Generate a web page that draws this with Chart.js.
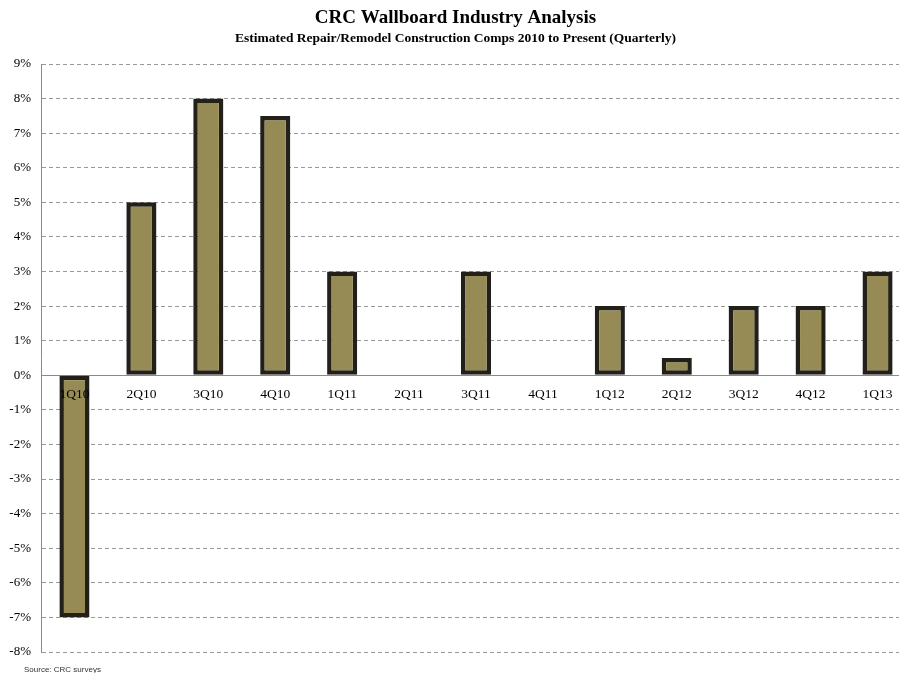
<!DOCTYPE html>
<html>
<head>
<meta charset="utf-8">
<script src="https://cdn.jsdelivr.net/npm/chart.js@4.4.1/dist/chart.umd.min.js"></script>
<style>
  html, body { margin: 0; padding: 0; background: #fff; overflow: hidden; }
  #marco { width: 899px; height: 673px; overflow: hidden; position: relative; }
</style>
</head>
<body>
<div id="marco">
  <canvas id="grafico" width="914" height="673"></canvas>
</div>
<script>
// Datos
const trimestres = ['1Q10', '2Q10', '3Q10', '4Q10', '1Q11', '2Q11', '3Q11', '4Q11', '1Q12', '2Q12', '3Q12', '4Q12', '1Q13'];
const comps = [-7, 5, 8, 7.5, 3, null, 3, null, 2, 0.5, 2, 2, 3];
const ejeMin = -8;
const ejeMax = 9;
const ejePaso = 1;
const titulo = 'CRC Wallboard Industry Analysis';
const subtitulo = 'Estimated Repair/Remodel Construction Comps 2010 to Present (Quarterly)';
const fuente = 'Source: CRC surveys';

const serif = "'Liberation Serif', 'Times New Roman', serif";

// Texto de la fuente abajo a la izquierda
const pluginFuente = {
    id: 'fuente',
    afterDraw(chart) {
        const ctx = chart.ctx;
        ctx.save();
        ctx.font = "8px 'Liberation Sans', Arial, sans-serif";
        ctx.fillStyle = '#333';
        ctx.textBaseline = 'middle';
        ctx.fillText(fuente, 24, 670);
        ctx.restore();
    }
};

new Chart(document.getElementById('grafico').getContext('2d'), {
    type: 'bar',
    data: {
        labels: trimestres,
        datasets: [{
            data: comps,
            backgroundColor: '#968b55',
            borderColor: '#23201a',
            borderWidth: 4.5,
            borderSkipped: false,
            categoryPercentage: 1,
            barPercentage: 0.45
        }]
    },
    options: {
        responsive: false,
        animation: false,
        layout: { padding: { left: 0, right: 3, top: 0, bottom: 21 } },
        plugins: {
            legend: { display: false },
            tooltip: { enabled: false },
            title: {
                display: true,
                text: titulo,
                color: '#000',
                font: { family: serif, size: 19, weight: 'bold' },
                padding: { top: 7, bottom: 1 }
            },
            subtitle: {
                display: true,
                text: subtitulo,
                color: '#000',
                font: { family: serif, size: 13.5, weight: 'bold' },
                padding: { top: 0, bottom: 17 }
            }
        },
        scales: {
            x: {
                position: { y: 0 },
                grid: { display: false, drawTicks: false },
                border: { display: true, color: '#8a8a8a', width: 1 },
                ticks: {
                    z: 1, // etiquetas encima de las barras
                    color: '#000',
                    font: { family: serif, size: 13.5 },
                    padding: 11,
                    maxRotation: 0,
                    autoSkip: false
                }
            },
            y: {
                min: ejeMin,
                max: ejeMax,
                afterFit(scale) { scale.width = 41; },
                grid: {
                    color: '#999',
                    lineWidth: 1,
                    drawTicks: false
                },
                border: {
                    display: true,
                    color: '#8a8a8a',
                    width: 1,
                    dash: (c) => (c.tick && c.tick.value === 0 ? [] : [4, 3])
                },
                ticks: {
                    stepSize: ejePaso,
                    color: '#000',
                    font: { family: serif, size: 13 },
                    padding: 10,
                    callback: (v) => v + '%'
                }
            }
        }
    },
    plugins: [pluginFuente]
});
</script>
</body>
</html>
